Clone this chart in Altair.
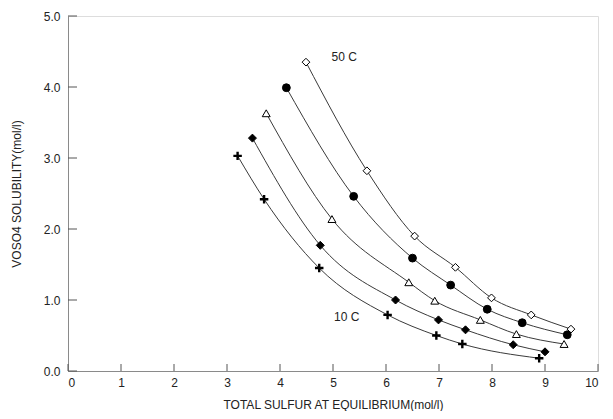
import altair as alt
import pandas as pd

# ---- data ----
series = ["50C", "40C", "30C", "20C", "10C"]
x50 = [4.49, 5.64, 6.54, 7.31, 7.99, 8.74, 9.49]
y50 = [4.35, 2.82, 1.90, 1.46, 1.03, 0.79, 0.59]
x40 = [4.12, 5.39, 6.50, 7.22, 7.91, 8.57, 9.42]
y40 = [3.99, 2.46, 1.59, 1.21, 0.87, 0.68, 0.51]
x30 = [3.74, 4.98, 6.43, 6.92, 7.78, 8.46, 9.36]
y30 = [3.63, 2.14, 1.25, 0.99, 0.72, 0.52, 0.38]
x20 = [3.48, 4.76, 6.18, 6.99, 7.50, 8.40, 9.00]
y20 = [3.28, 1.77, 1.00, 0.72, 0.58, 0.37, 0.27]
x10 = [3.20, 3.70, 4.74, 6.03, 6.95, 7.44, 8.89]
y10 = [3.03, 2.42, 1.45, 0.79, 0.50, 0.38, 0.18]

x_ticks = [0, 1, 2, 3, 4, 5, 6, 7, 8, 9, 10]
y_ticks = [0, 1, 2, 3, 4, 5]
label_text = ["50 C", "10 C"]
label_x = [5.21, 5.26]
label_y = [4.42, 0.76]

xs = [x50, x40, x30, x20, x10]
ys = [y50, y40, y30, y20, y10]
rows = []
for s, xv, yv in zip(series, xs, ys):
    for i, (a, b) in enumerate(zip(xv, yv)):
        rows.append({"series": s, "x": a, "y": b, "order": i})
df = pd.DataFrame(rows)

W, H = 530, 355
FONT = "Liberation Sans"

xscale = alt.Scale(domain=[0, 10], nice=False)
yscale = alt.Scale(domain=[0, 5], nice=False)

base = alt.Chart(df)

lines = base.mark_line(interpolate="monotone", color="#3a3a3a", strokeWidth=1).encode(
    x=alt.X("x:Q", scale=xscale, title="TOTAL SULFUR AT EQUILIBRIUM(mol/l)",
            axis=alt.Axis(values=x_ticks, format="d", grid=False, ticks=False, tickSize=0,
                          labelPadding=6, titlePadding=11, domainColor="#8a8a8a",
                          labelFont=FONT, labelFontSize=12, labelColor="#222222",
                          titleFont=FONT, titleFontSize=12, titleFontWeight="normal",
                          titleColor="#222222")),
    y=alt.Y("y:Q", scale=yscale, title="VOSO4 SOLUBILITY(mol/l)",
            axis=alt.Axis(values=y_ticks, format=".1f", grid=False, ticks=False, tickSize=0,
                          labelPadding=8, titlePadding=20, domainColor="#8a8a8a",
                          labelFont=FONT, labelFontSize=12, labelColor="#222222",
                          titleFont=FONT, titleFontSize=12, titleFontWeight="normal",
                          titleColor="#222222")),
    detail="series:N",
    order="order:Q",
)

sym_series = series[:4]
shape_range = ["diamond", "circle", "triangle-up", "diamond"]
fill_range = ["white", "black", "white", "black"]
size_range = [60, 64, 64, 50]

points = base.transform_filter(
    alt.FieldOneOfPredicate(field="series", oneOf=sym_series)
).mark_point(filled=True, stroke="black", strokeWidth=1, opacity=1).encode(
    x=alt.X("x:Q", scale=xscale),
    y=alt.Y("y:Q", scale=yscale),
    shape=alt.Shape("series:N", scale=alt.Scale(domain=sym_series, range=shape_range), legend=None),
    fill=alt.Fill("series:N", scale=alt.Scale(domain=sym_series, range=fill_range), legend=None),
    size=alt.Size("series:N", scale=alt.Scale(domain=sym_series, range=size_range), legend=None),
)

PLUS = "M-1,0L1,0M0,-1L0,1"
plus = base.transform_filter(alt.datum.series == "10C").mark_point(
    shape=PLUS, size=72, filled=False, stroke="black", strokeWidth=2.4, opacity=1
).encode(x=alt.X("x:Q", scale=xscale), y=alt.Y("y:Q", scale=yscale))

xt = alt.Chart(pd.DataFrame({"v": x_ticks})).mark_rule(color="#555555", strokeWidth=1).encode(
    x=alt.X("v:Q", scale=xscale), y=alt.value(H), y2=alt.value(H - 7)
)
yt = alt.Chart(pd.DataFrame({"v": y_ticks})).mark_rule(color="#555555", strokeWidth=1).encode(
    y=alt.Y("v:Q", scale=yscale), x=alt.value(0), x2=alt.value(9)
)

labels = alt.Chart(pd.DataFrame({"t": label_text, "x": label_x, "y": label_y})).mark_text(
    font=FONT, fontSize=12, color="#222222"
).encode(x=alt.X("x:Q", scale=xscale), y=alt.Y("y:Q", scale=yscale), text="t:N")

chart = alt.layer(lines, xt, yt, points, plus, labels).properties(
    width=W, height=H,
    autosize=alt.AutoSizeParams(type="none"),
    padding={"left": 60, "top": 8, "right": 7, "bottom": 40},
).configure_view(stroke=None).configure(background="white")

chart.save("out.html", embed_options={"renderer": "svg", "actions": False})
